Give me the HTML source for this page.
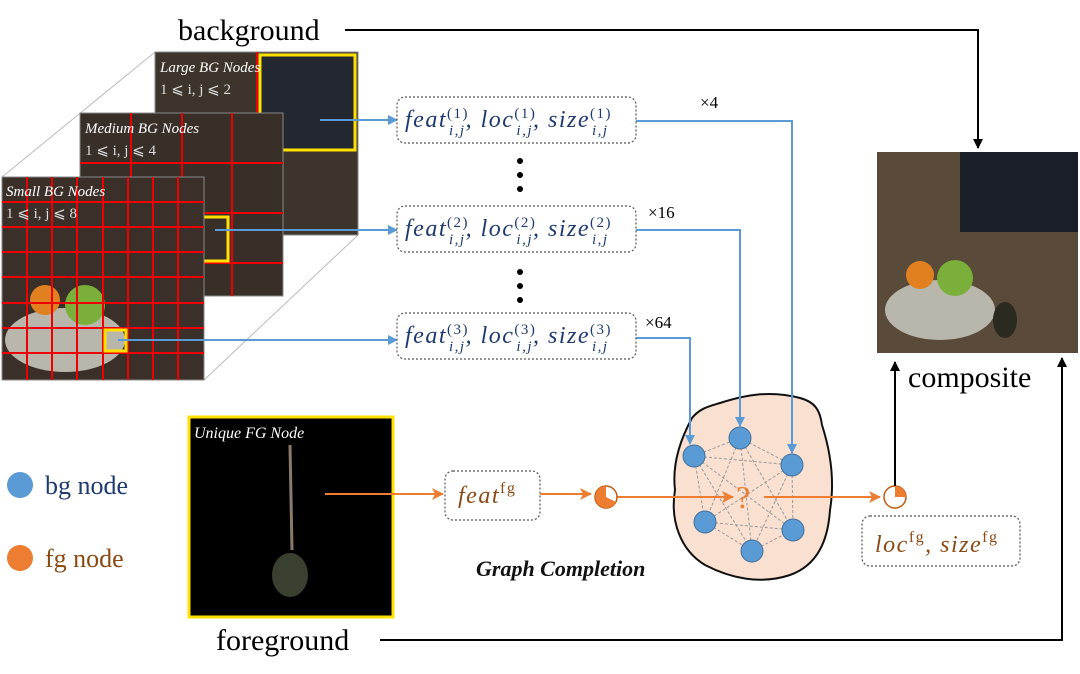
<!DOCTYPE html>
<html><head><meta charset="utf-8"><style>
body{margin:0;background:#fff}
svg{display:block}
.serif{font-family:"Liberation Serif",serif}
</style></head><body>
<svg width="1080" height="674" viewBox="0 0 1080 674" xmlns="http://www.w3.org/2000/svg">
<defs>
<marker id="ab" markerWidth="10" markerHeight="10" refX="9" refY="5" orient="auto" markerUnits="userSpaceOnUse"><path d="M0,0 L10,5 L0,10 z" fill="#5b9bd5"/></marker>
<marker id="ao" markerWidth="12" markerHeight="12" refX="11" refY="6" orient="auto" markerUnits="userSpaceOnUse"><path d="M0,0 L12,6 L0,12 L3,6 z" fill="#ed7d31"/></marker>
<marker id="ak" markerWidth="10" markerHeight="10" refX="9" refY="5" orient="auto" markerUnits="userSpaceOnUse"><path d="M0,0 L10,5 L0,10 z" fill="#000"/></marker>
</defs>
<text x="178" y="40" class="serif" font-size="30">background</text>
<polyline points="345,30 978,30 978,148" fill="none" stroke="#000" stroke-width="2" marker-end="url(#ak)"/>
<g stroke="#bbb" stroke-width="1"><line x1="2" y1="177" x2="155" y2="52"/><line x1="204" y1="380" x2="358" y2="235"/><line x1="204" y1="177" x2="358" y2="52"/></g>
<rect x="155" y="52" width="203" height="183" fill="#3d342c" stroke="#888"/>
<rect x="260" y="55" width="95" height="95" fill="#232830" stroke="#ffe000" stroke-width="3"/>
<line x1="257" y1="52" x2="257" y2="152" stroke="#e00" stroke-width="2"/>
<text x="160" y="72" class="serif" font-style="italic" font-size="15" fill="#fff">Large BG Nodes</text>
<text x="160" y="94" class="serif" font-size="15" fill="#ddd">1 ⩽ i, j ⩽ 2</text>
<rect x="80" y="113" width="203" height="183" fill="#382f28" stroke="#888"/>
<g stroke="#e00" stroke-width="2"><line x1="80" y1="163" x2="283" y2="163"/><line x1="80" y1="213" x2="283" y2="213"/><line x1="80" y1="263" x2="283" y2="263"/><line x1="131" y1="113" x2="131" y2="296"/><line x1="182" y1="113" x2="182" y2="296"/><line x1="232" y1="113" x2="232" y2="296"/></g>
<rect x="183" y="217" width="45" height="44" fill="none" stroke="#ffe000" stroke-width="3"/>
<text x="85" y="133" class="serif" font-style="italic" font-size="15" fill="#fff">Medium BG Nodes</text>
<text x="85" y="155" class="serif" font-size="15" fill="#ddd">1 ⩽ i, j ⩽ 4</text>
<rect x="2" y="177" width="202" height="203" fill="#3a3029" stroke="#888"/>
<ellipse cx="65" cy="340" rx="60" ry="32" fill="#b9b6ac"/>
<circle cx="85" cy="305" r="20" fill="#7ab03a"/>
<circle cx="45" cy="300" r="15" fill="#e08020"/>
<g stroke="#e00" stroke-width="2">
<line x1="2" y1="202" x2="204" y2="202"/><line x1="2" y1="227" x2="204" y2="227"/><line x1="2" y1="252" x2="204" y2="252"/><line x1="2" y1="277" x2="204" y2="277"/><line x1="2" y1="303" x2="204" y2="303"/><line x1="2" y1="328" x2="204" y2="328"/><line x1="2" y1="353" x2="204" y2="353"/>
<line x1="27" y1="177" x2="27" y2="380"/><line x1="52" y1="177" x2="52" y2="380"/><line x1="77" y1="177" x2="77" y2="380"/><line x1="103" y1="177" x2="103" y2="380"/><line x1="128" y1="177" x2="128" y2="380"/><line x1="153" y1="177" x2="153" y2="380"/><line x1="178" y1="177" x2="178" y2="380"/></g>
<rect x="105" y="330" width="21" height="21" fill="none" stroke="#ffe000" stroke-width="3"/>
<text x="6" y="196" class="serif" font-style="italic" font-size="15" fill="#fff">Small BG Nodes</text>
<text x="6" y="218" class="serif" font-size="15" fill="#ddd">1 ⩽ i, j ⩽ 8</text>
<!-- blob first -->
<path d="M720,403 C745,395 770,390 800,398 C815,402 820,410 822,425 C830,450 835,480 830,510 C828,540 818,565 790,575 C760,585 730,578 705,565 C680,550 670,520 675,490 C672,465 680,440 692,418 C700,408 710,406 720,403 Z" fill="#f9e0d0" stroke="#111" stroke-width="2"/>
<g stroke="#5b9bd5" stroke-width="2" fill="none">
<line x1="320" y1="120" x2="397" y2="120" marker-end="url(#ab)"/>
<line x1="215" y1="230" x2="397" y2="230" marker-end="url(#ab)"/>
<line x1="118" y1="340" x2="397" y2="340" marker-end="url(#ab)"/>
<polyline points="636,121 792,121 792,453" marker-end="url(#ab)"/>
<polyline points="636,230 740,230 740,426" marker-end="url(#ab)"/>
<polyline points="636,338 690,338 690,444" marker-end="url(#ab)"/>
</g>
<g fill="#fff" stroke="#555" stroke-width="1.2" stroke-dasharray="2,2">
<rect x="397" y="97" width="239" height="46" rx="8"/>
<rect x="397" y="206" width="239" height="46" rx="8"/>
<rect x="397" y="313" width="239" height="46" rx="8"/>
<rect x="445" y="471" width="95" height="49" rx="8"/>
<rect x="862" y="516" width="158" height="50" rx="8"/>
</g>
<g class="serif" font-style="italic" font-size="24" fill="#1f3a70" letter-spacing="1.5">
<text x="405" y="127">feat<tspan font-size="15" font-style="normal" dy="-9">(1)</tspan><tspan font-size="15" dx="-20" dy="17">i,j</tspan><tspan dy="-8">, loc</tspan><tspan font-size="15" font-style="normal" dy="-9">(1)</tspan><tspan font-size="15" dx="-20" dy="17">i,j</tspan><tspan dy="-8">, size</tspan><tspan font-size="15" font-style="normal" dy="-9">(1)</tspan><tspan font-size="15" dx="-20" dy="17">i,j</tspan></text>
<text x="405" y="236">feat<tspan font-size="15" font-style="normal" dy="-9">(2)</tspan><tspan font-size="15" dx="-20" dy="17">i,j</tspan><tspan dy="-8">, loc</tspan><tspan font-size="15" font-style="normal" dy="-9">(2)</tspan><tspan font-size="15" dx="-20" dy="17">i,j</tspan><tspan dy="-8">, size</tspan><tspan font-size="15" font-style="normal" dy="-9">(2)</tspan><tspan font-size="15" dx="-20" dy="17">i,j</tspan></text>
<text x="405" y="343">feat<tspan font-size="15" font-style="normal" dy="-9">(3)</tspan><tspan font-size="15" dx="-20" dy="17">i,j</tspan><tspan dy="-8">, loc</tspan><tspan font-size="15" font-style="normal" dy="-9">(3)</tspan><tspan font-size="15" dx="-20" dy="17">i,j</tspan><tspan dy="-8">, size</tspan><tspan font-size="15" font-style="normal" dy="-9">(3)</tspan><tspan font-size="15" dx="-20" dy="17">i,j</tspan></text>
</g>
<g fill="#000"><circle cx="520" cy="161" r="3"/><circle cx="520" cy="175" r="3"/><circle cx="520" cy="189" r="3"/><circle cx="520" cy="272" r="3"/><circle cx="520" cy="286" r="3"/><circle cx="520" cy="300" r="3"/></g>
<g class="serif" font-size="17"><text x="700" y="108">×4</text><text x="648" y="218">×16</text><text x="645" y="328">×64</text></g>
<rect x="189" y="417" width="204" height="200" fill="#000" stroke="#ffe000" stroke-width="3"/>
<line x1="290" y1="445" x2="292" y2="550" stroke="#8a7a6a" stroke-width="3"/>
<ellipse cx="290" cy="575" rx="18" ry="22" fill="#3a4030"/>
<text x="194" y="438" class="serif" font-style="italic" font-size="16" fill="#fff">Unique FG Node</text>
<text x="216" y="650" class="serif" font-size="30">foreground</text>
<polyline points="380,640 1062,640 1062,358" fill="none" stroke="#000" stroke-width="2" marker-end="url(#ak)"/>
<rect x="877" y="152" width="201" height="201" fill="#5a4a3a"/>
<rect x="960" y="152" width="118" height="80" fill="#1a1e26"/>
<ellipse cx="940" cy="310" rx="55" ry="30" fill="#b9b6ac"/>
<circle cx="955" cy="278" r="18" fill="#7ab03a"/>
<circle cx="920" cy="275" r="14" fill="#e08020"/>
<ellipse cx="1005" cy="320" rx="12" ry="18" fill="#2a2a20"/>
<text x="908" y="387" class="serif" font-size="30">composite</text>
<g stroke="#ed7d31" stroke-width="2" fill="none">
<line x1="325" y1="494" x2="443" y2="494" marker-end="url(#ao)"/>
<line x1="540" y1="494" x2="591" y2="494" marker-end="url(#ao)"/>
</g>
<text x="458" y="503" class="serif" font-style="italic" font-size="24" fill="#8b4a14" letter-spacing="1.5">feat<tspan font-style="normal" font-size="16" dy="-10">fg</tspan></text>
<g stroke="#999" stroke-width="1" stroke-dasharray="3,2" fill="none">
<line x1="694" y1="456" x2="740" y2="438"/><line x1="740" y1="438" x2="792" y2="465"/><line x1="694" y1="456" x2="792" y2="465"/>
<line x1="694" y1="456" x2="705" y2="522"/><line x1="792" y1="465" x2="793" y2="530"/><line x1="705" y1="522" x2="752" y2="551"/><line x1="752" y1="551" x2="793" y2="530"/>
<line x1="694" y1="456" x2="793" y2="530"/><line x1="792" y1="465" x2="705" y2="522"/><line x1="740" y1="438" x2="705" y2="522"/><line x1="740" y1="438" x2="752" y2="551"/><line x1="740" y1="438" x2="793" y2="530"/>
<line x1="694" y1="456" x2="752" y2="551"/><line x1="792" y1="465" x2="752" y2="551"/><line x1="705" y1="522" x2="793" y2="530"/>
</g>
<g fill="#5b9bd5" stroke="#41719c" stroke-width="1">
<circle cx="694" cy="456" r="11"/><circle cx="740" cy="438" r="11"/><circle cx="792" cy="465" r="11"/><circle cx="705" cy="522" r="11"/><circle cx="752" cy="551" r="11"/><circle cx="793" cy="530" r="11"/></g>
<text x="736" y="508" class="serif" font-size="32" fill="#ed7d31">?</text>
<g stroke="#ed7d31" stroke-width="2" fill="none">
<line x1="617" y1="497" x2="733" y2="497" marker-end="url(#ao)"/>
<line x1="764" y1="497" x2="880" y2="497" marker-end="url(#ao)"/>
</g>
<circle cx="606" cy="497" r="11" fill="#fff" stroke="#c55a11" stroke-width="1.5"/>
<path d="M606,497 L606,486 A11,11 0 1 0 616,502 Z" fill="#ed7d31"/>
<circle cx="895" cy="497" r="11" fill="#fff" stroke="#c55a11" stroke-width="1.5"/>
<path d="M895,497 L895,486 A11,11 0 0 1 906,497 Z" fill="#ed7d31"/>
<line x1="895" y1="486" x2="895" y2="362" stroke="#000" stroke-width="2" marker-end="url(#ak)"/>
<text x="875" y="552" class="serif" font-style="italic" font-size="24" fill="#8b4a14" letter-spacing="1.5">loc<tspan font-style="normal" font-size="16" dy="-10">fg</tspan><tspan dy="10">, size</tspan><tspan font-style="normal" font-size="16" dy="-10">fg</tspan></text>
<text x="476" y="576" class="serif" font-style="italic" font-weight="bold" font-size="22" fill="#111">Graph Completion</text>
<circle cx="20" cy="485" r="13" fill="#5b9bd5"/>
<text x="45" y="494" class="serif" font-size="26" fill="#1f3a70">bg node</text>
<circle cx="20" cy="558" r="13" fill="#ed7d31"/>
<text x="45" y="567" class="serif" font-size="26" fill="#8b4a14">fg node</text>
</svg>
</body></html>
